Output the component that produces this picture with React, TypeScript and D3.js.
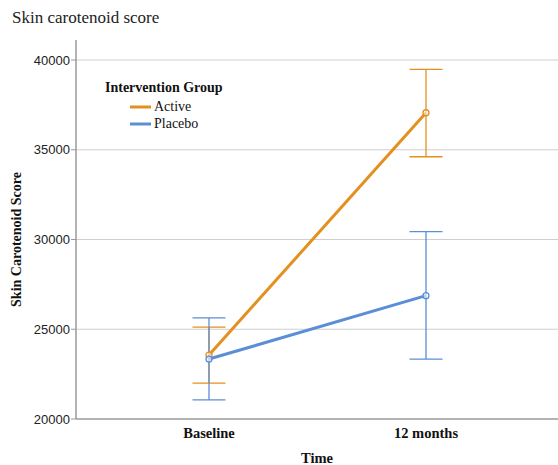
import React from "react";
import * as d3 from "d3";

const categories = ["Baseline", "12 months"];
const groups = ["Active", "Placebo"];
const colors = ["#E3901F", "#5B8ED6"];
const means = [
  [23560, 37060],
  [23340, 26870],
];
const upper = [
  [25120, 39480],
  [25630, 30440],
];
const lower = [
  [22000, 34610],
  [21060, 23340],
];
const yTicks = [20000, 25000, 30000, 35000, 40000];

export default function App() {
  const W = 558, H = 465;
  const left = 76, right = 558, top = 40, bottom = 419;
  const y = d3.scaleLinear().domain([20000, 40000]).range([bottom, 60]);
  const x = d3.scalePoint().domain(categories).range([209, 426]);
  const line = d3.line<number>().x((_, i) => x(categories[i])!).y((v) => y(v));
  const cap = 16.5;
  return (
    <svg width={W} height={H} style={{ position: "absolute", left: 0, top: 0, background: "#fff" }}>
      <text x={12} y={23} fontFamily="Liberation Serif, serif" fontSize={17} fill="#222">Skin carotenoid score</text>
      {yTicks.map((t) => (
        <g key={t}>
          {t !== 20000 && <line x1={left} x2={right} y1={y(t)} y2={y(t)} stroke="#cfcfcf" strokeWidth={1.2} />}
          <line x1={left - 5} x2={left} y1={y(t)} y2={y(t)} stroke="#999" />
          <text x={70} y={y(t) + 4.5} textAnchor="end" fontFamily="Liberation Sans, Arial, sans-serif" fontSize={13} fill="#222">{t}</text>
        </g>
      ))}
      <line x1={left} x2={left} y1={top} y2={bottom} stroke="#9a9a9a" strokeWidth={1.5} />
      <line x1={left} x2={right} y1={bottom} y2={bottom} stroke="#9a9a9a" strokeWidth={1.5} />
      {categories.map((c) => (
        <text key={c} x={x(c)} y={438} textAnchor="middle" fontFamily="Liberation Serif, serif" fontWeight="bold" fontSize={14.5} fill="#111">{c}</text>
      ))}
      <text x={317} y={463} textAnchor="middle" fontFamily="Liberation Serif, serif" fontWeight="bold" fontSize={14.5} fill="#111">Time</text>
      <text transform={`translate(21,${(60 + bottom) / 2}) rotate(-90)`} textAnchor="middle" fontFamily="Liberation Serif, serif" fontWeight="bold" fontSize={14} fill="#111">Skin Carotenoid Score</text>
      {groups.map((g, gi) => (
        <g key={g}>
          {categories.map((c, ci) => {
            const cx = x(c)!;
            return (
              <g key={c} stroke={colors[gi]} strokeWidth={1.3}>
                <line x1={cx} x2={cx} y1={y(upper[gi][ci])} y2={y(lower[gi][ci])} />
                <line x1={cx - cap} x2={cx + cap} y1={y(upper[gi][ci])} y2={y(upper[gi][ci])} />
                <line x1={cx - cap} x2={cx + cap} y1={y(lower[gi][ci])} y2={y(lower[gi][ci])} />
              </g>
            );
          })}
        </g>
      ))}
      {groups.map((g, gi) => (
        <g key={g}>
          <path d={line(means[gi])!} fill="none" stroke={colors[gi]} strokeWidth={3} />
          {categories.map((c, ci) => (
            <circle key={c} cx={x(c)} cy={y(means[gi][ci])} r={3} fill="#fff" fillOpacity={0.6} stroke={colors[gi]} strokeWidth={1.3} />
          ))}
        </g>
      ))}
      <text x={105} y={92} fontFamily="Liberation Serif, serif" fontWeight="bold" fontSize={14} fill="#111">Intervention Group</text>
      {groups.map((g, gi) => (
        <g key={g}>
          <line x1={130} x2={151} y1={107 + gi * 17} y2={107 + gi * 17} stroke={colors[gi]} strokeWidth={3} />
          <text x={154} y={111 + gi * 17} fontFamily="Liberation Serif, serif" fontSize={14} fill="#111">{g}</text>
        </g>
      ))}
    </svg>
  );
}
